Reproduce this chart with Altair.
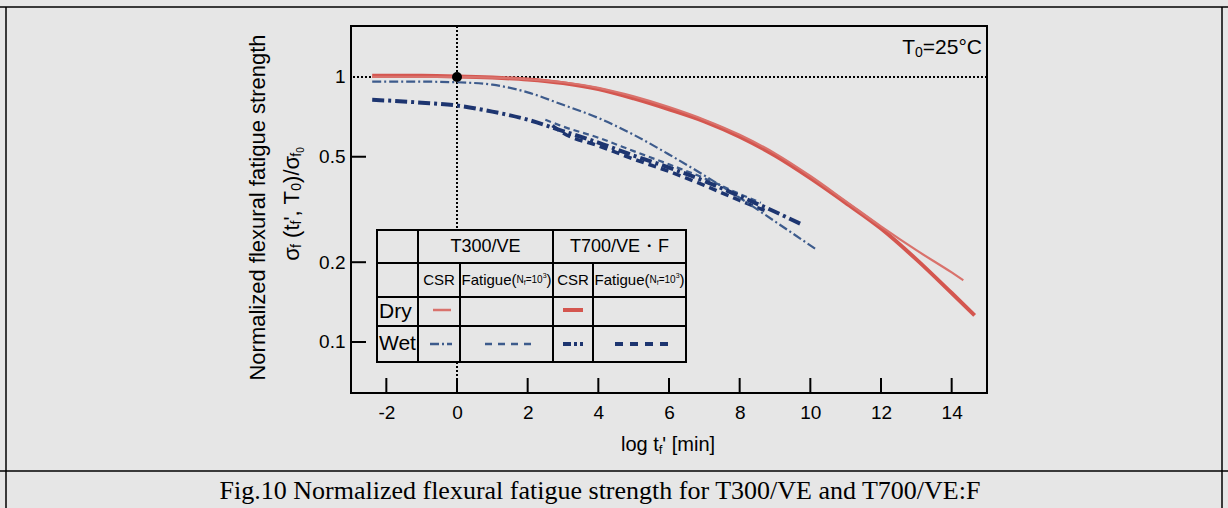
import altair as alt
import pandas as pd

# ---------------- data ----------------
x_t300_dry = [-2.4, -1, 0, 1, 2, 3, 4, 5, 6, 7, 8, 9, 10, 11, 12, 13, 14, 14.33]
y_t300_dry = [1.0, 1.0, 1.0, 0.995, 0.98, 0.955, 0.91, 0.845, 0.77, 0.69, 0.605, 0.515, 0.423, 0.34, 0.273, 0.222, 0.183, 0.171]

x_t700_dry = [-2.4, -1, 0, 1, 2, 3, 4, 5, 6, 7, 8, 9, 10, 11, 12, 13, 14, 14.65]
y_t700_dry = [1.01, 1.01, 1.005, 0.995, 0.978, 0.948, 0.90, 0.83, 0.755, 0.68, 0.595, 0.505, 0.415, 0.335, 0.268, 0.205, 0.153, 0.126]

x_t300_wet_csr = [-2.4, -1, 0, 1, 2, 3, 4, 5, 6, 7, 8, 9, 10.2]
y_t300_wet_csr = [0.96, 0.96, 0.955, 0.935, 0.875, 0.785, 0.70, 0.605, 0.51, 0.425, 0.35, 0.285, 0.222]

x_t700_wet_csr = [-2.4, -1, 0, 1, 2, 3, 4, 5, 6, 7, 8, 9, 9.8]
y_t700_wet_csr = [0.82, 0.80, 0.78, 0.74, 0.69, 0.625, 0.565, 0.505, 0.455, 0.405, 0.355, 0.31, 0.276]

x_t300_wet_fat = [2.5, 3, 4, 5, 6, 7, 8, 8.6]
y_t300_wet_fat = [0.69, 0.65, 0.59, 0.525, 0.468, 0.415, 0.362, 0.335]

x_t700_wet_fat = [2.7, 3, 4, 5, 6, 7, 8, 8.8]
y_t700_wet_fat = [0.655, 0.615, 0.55, 0.49, 0.44, 0.39, 0.342, 0.31]

x_ticks = [-2, 0, 2, 4, 6, 8, 10, 12, 14]
y_ticks = [0.1, 0.2, 0.5, 1]
x_domain = [-3, 15]
y_domain = [0.0642, 1.557]

# ---------------- styling ----------------
FONT = "Liberation Sans"
SERIF = "Liberation Serif"
BG = "#e6e6e6"
RED_THIN = "#d9726c"
RED_THICK = "#d4564f"
BLUE_THIN = "#3d5b8c"
BLUE_THICK = "#1d3570"
W, H = 636, 367
LEFT, TOP = 351, 26
DUMMY = pd.DataFrame({"d": [0]})

xs = alt.Scale(domain=x_domain, nice=False, zero=False)
ys = alt.Scale(type="log", domain=y_domain, nice=False)

x_axis = alt.Axis(values=x_ticks, ticks=False, domain=False, grid=False, labelFontSize=19,
                  labelFont=FONT, labelColor="black", labelPadding=10, title=None,
                  labelFlush=False, labelOverlap=False, labelExpr="'' + datum.value")
y_axis = alt.Axis(values=y_ticks, ticks=False, domain=False, grid=False, labelFontSize=19,
                  labelFont=FONT, labelColor="black", labelPadding=6, title=None,
                  labelOverlap=False,
                  labelExpr="datum.value >= 1 ? '1' : format(datum.value, '.1f')")

AW = {' ': .278, '(': .333, ')': .333, "'": .191, ',': .278, '/': .278, '=': .584,
      '[': .278, ']': .278, '°': .4, 'C': .722, 'F': .611, 'N': .722, 'T': .611,
      'a': .556, 'e': .556, 'f': .278, 'g': .556, 'i': .222, 'l': .222, 'm': .833,
      'n': .556, 'o': .556, 't': .278, 'u': .556, 'σ': .58}


def tw(s, size):
    return sum(AW.get(c, .556) for c in s) * size


def pieces(parts, x, y, align="left", angle=0, font=FONT, color="black"):
    total = sum(tw(t, s) for t, s, d in parts)
    cum = 0 if align == "left" else (-total / 2 if align == "center" else -total)
    out = []
    for t, s, d in parts:
        lead = tw(t[:len(t) - len(t.lstrip(" "))], s)
        shown = t.strip(" ")
        if angle == 0:
            px, py = x + cum + lead, y + d
        else:
            px, py = x + d, y - cum - lead
        out.append(alt.Chart(DUMMY).mark_text(text=shown, fontSize=s, font=font, color=color,
                                              align="left", baseline="middle", angle=angle)
                   .encode(x=alt.value(px), y=alt.value(py)))
        cum += tw(t, s)
    return out


def label(t, x, y, size, align="center", font=FONT, angle=0):
    return alt.Chart(DUMMY).mark_text(text=t, fontSize=size, font=font, color="black",
                                      align=align, baseline="middle", angle=angle).encode(
        x=alt.value(x), y=alt.value(y))


def prule(x1, y1, x2, y2, color="black", width=2, dash=None):
    kw = dict(color=color, strokeWidth=width)
    if dash:
        kw["strokeDash"] = dash
    return alt.Chart(DUMMY).mark_rule(**kw).encode(
        x=alt.value(x1), y=alt.value(y1), x2=alt.value(x2), y2=alt.value(y2))


def curve(xv, yv, color, width, dash=None):
    kw = dict(color=color, strokeWidth=width, interpolate="monotone")
    if dash:
        kw["strokeDash"] = dash
    return alt.Chart(pd.DataFrame({"x": xv, "y": yv})).mark_line(**kw).encode(
        x=alt.X("x:Q", scale=xs, axis=x_axis), y=alt.Y("y:Q", scale=ys, axis=y_axis))


layers = []

# reference dotted lines
layers.append(alt.Chart(pd.DataFrame({"y": [1]})).mark_rule(color="black", strokeWidth=2, strokeDash=[2, 2]).encode(
    y=alt.Y("y:Q", scale=ys, axis=y_axis)))
layers.append(alt.Chart(pd.DataFrame({"x": [0]})).mark_rule(color="black", strokeWidth=2, strokeDash=[2, 2]).encode(
    x=alt.X("x:Q", scale=xs, axis=x_axis)))

# inward ticks
layers.append(alt.Chart(pd.DataFrame({"v": x_ticks})).mark_rule(color="black", strokeWidth=2).encode(
    x=alt.X("v:Q", scale=xs, axis=x_axis), y=alt.value(H), y2=alt.value(H - 15)))
layers.append(alt.Chart(pd.DataFrame({"v": y_ticks[:-1]})).mark_rule(color="black", strokeWidth=2).encode(
    y=alt.Y("v:Q", scale=ys, axis=y_axis), x=alt.value(0), x2=alt.value(15)))

# curves
layers.append(curve(x_t300_wet_fat, y_t300_wet_fat, BLUE_THIN, 2.2, [6, 4]))
layers.append(curve(x_t700_wet_fat, y_t700_wet_fat, BLUE_THICK, 3.5, [8, 5]))
layers.append(curve(x_t300_wet_csr, y_t300_wet_csr, BLUE_THIN, 2.2, [9, 3, 2, 3]))
layers.append(curve(x_t700_wet_csr, y_t700_wet_csr, BLUE_THICK, 4, [12, 4, 3, 4]))
layers.append(curve(x_t700_dry, y_t700_dry, RED_THICK, 4))
layers.append(curve(x_t300_dry, y_t300_dry, RED_THIN, 2.2))

# reference point
layers.append(alt.Chart(pd.DataFrame({"x": [0], "y": [1]})).mark_point(
    filled=True, color="black", size=100, opacity=1).encode(
    x=alt.X("x:Q", scale=xs, axis=x_axis), y=alt.Y("y:Q", scale=ys, axis=y_axis)))

# T0 annotation
layers += pieces([("T", 21, 0), ("0", 14, 5), ("=25°C", 21, 0)], 631, 22, align="right")

# legend table
layers.append(alt.Chart(DUMMY).mark_rect(fill=BG, stroke="black", strokeWidth=2).encode(
    x=alt.value(26), x2=alt.value(335), y=alt.value(204), y2=alt.value(336)))
for yy in [237, 271, 300]:
    layers.append(prule(26, yy, 335, yy))
for xx in [67, 202]:
    layers.append(prule(xx, 204, xx, 336))
for xx in [109, 242]:
    layers.append(prule(xx, 237, xx, 336))
layers.append(label("T300/VE", 134.5, 220.5, 18))
layers.append(label("T700/VE・F", 268.5, 220.5, 18))
layers.append(label("CSR", 88, 254, 15))
layers.append(label("CSR", 222, 254, 15))
fat_parts = [("Fatigue(", 15, 0), ("N", 10, 0), ("f", 7, 3), ("=10", 10, 0), ("3", 7, -4), (")", 15, 0)]
layers += pieces(fat_parts, 155.5, 254, align="center")
layers += pieces(fat_parts, 288.5, 254, align="center")
layers.append(label("Dry", 28, 285.5, 21, align="left"))
layers.append(label("Wet", 28, 318, 21, align="left"))
layers.append(prule(82, 284, 100, 284, RED_THIN, 2.5))
layers.append(prule(212, 284, 232, 284, RED_THICK, 4))
layers.append(prule(79, 318, 101, 318, BLUE_THIN, 2.5, [9, 3, 2, 3]))
layers.append(prule(134, 318, 184, 318, BLUE_THIN, 2.5, [7, 6]))
layers.append(prule(212, 318, 232, 318, BLUE_THICK, 4, [8, 3, 3, 3]))
layers.append(prule(264, 318, 321, 318, BLUE_THICK, 4, [8, 7]))

# axis titles
layers += pieces([("log t", 20, 0), ("f", 13, 5), ("' [min]", 20, 0)], 317, 419, align="center")
layers.append(label("Normalized flexural fatigue strength", -93, 181.5, 22, angle=270))
layers += pieces([("σ", 22, 0), ("f", 14, 5), (" (t", 22, 0), ("f", 14, 5), ("', T", 22, 0),
                  ("0", 14, 5), (")/σ", 22, 0), ("f", 14, 5), ("0", 10, 9)],
                 -59, 178, align="center", angle=270)

# page frame and caption
layers.append(prule(-351, -19, 877, -19, "black", 1.5))
layers.append(prule(-345, -19, -345, 482, "black", 1.5))
layers.append(prule(871, -19, 871, 482, "black", 1.5))
layers.append(prule(-351, 445, 877, 445, "black", 1.5))
layers.append(label("Fig.10 Normalized flexural fatigue strength for T300/VE and T700/VE:F",
                    249, 465, 26, font=SERIF))

chart = alt.layer(*layers).properties(
    width=W, height=H,
    padding={"left": LEFT, "top": TOP, "right": 1228 - LEFT - W, "bottom": 508 - TOP - H},
    autosize=alt.AutoSizeParams(type="none"),
).configure(background=BG).configure_view(stroke="black", strokeWidth=2, fill=BG)

chart.save("out.html", embed_options={"renderer": "svg", "actions": False})
